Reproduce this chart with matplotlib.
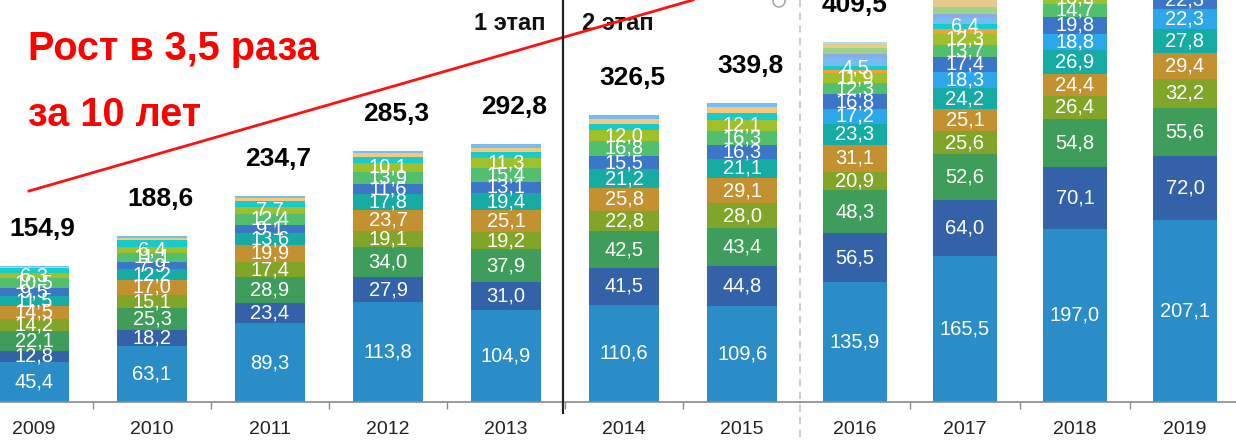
import matplotlib
matplotlib.use("Agg")
import matplotlib.pyplot as plt
from matplotlib.lines import Line2D
from matplotlib.patches import Ellipse

# ---------------- data ----------------
years = ["2009", "2010", "2011", "2012", "2013", "2014", "2015",
         "2016", "2017", "2018", "2019"]
totals = [154.9, 188.6, 234.7, 285.3, 292.8, 326.5, 339.8, 409.5, None, None, None]

blue       = [45.4, 63.1, 89.3, 113.8, 104.9, 110.6, 109.6, 135.9, 165.5, 197.0, 207.1]
dark_blue  = [12.8, 18.2, 23.4, 27.9, 31.0, 41.5, 44.8, 56.5, 64.0, 70.1, 72.0]
green      = [22.1, 25.3, 28.9, 34.0, 37.9, 42.5, 43.4, 48.3, 52.6, 54.8, 55.6]
olive      = [14.2, 15.1, 17.4, 19.1, 19.2, 22.8, 28.0, 20.9, 25.6, 26.4, 32.2]
gold       = [14.5, 17.0, 19.9, 23.7, 25.1, 25.8, 29.1, 31.1, 25.1, 24.4, 29.4]
teal       = [11.5, 12.2, 13.6, 17.8, 19.4, 21.2, 21.1, 23.3, 24.2, 26.9, 27.8]
sky        = [0, 0, 0, 0, 0, 0, 0, 17.2, 18.3, 18.8, 22.3]
royal      = [9.5, 7.9, 9.1, 11.6, 13.1, 15.5, 16.3, 16.8, 17.4, 19.8, 22.3]
light_grn  = [10.5, 11.1, 12.4, 13.9, 15.4, 16.8, 16.3, 12.3, 13.7, 14.7, 16.0]
lime       = [6.3, 6.4, 7.7, 10.1, 11.3, 12.0, 12.1, 11.9, 12.3, 13.0, 13.0]
orange     = [0, 0, 0, 0, 0, 0, 0, 3.0, 5.0, 5.0, 5.0]
cyan       = [5.0, 7.5, 7.0, 6.5, 6.5, 7.0, 8.0, 4.5, 6.4, 7.0, 7.0]
pale_orng  = [2.0, 3.0, 3.5, 4.4, 5.0, 6.5, 6.5, 0, 0, 0, 0]
light_blue = [1.1, 1.8, 2.5, 2.5, 4.0, 4.3, 4.6, 9.5, 7.0, 7.0, 7.0]
lavender   = [0, 0, 0, 0, 0, 0, 0, 4.5, 3.5, 4.0, 4.0]
pale_grn   = [0, 0, 0, 0, 0, 0, 0, 6.5, 8.0, 8.0, 8.0]
tan        = [0, 0, 0, 0, 0, 0, 0, 4.5, 8.0, 6.0, 6.0]
pale_blue  = [0, 0, 0, 0, 0, 0, 0, 2.8, 4.0, 3.0, 3.0]

series = [blue, dark_blue, green, olive, gold, teal, sky, royal, light_grn,
          lime, orange, cyan, pale_orng, light_blue, lavender, pale_grn, tan,
          pale_blue]
colors = ["#2A8DC8", "#3462A8", "#3F9D5B", "#80A529", "#C3912F", "#16ABA3",
          "#2BA7EA", "#3B76C9", "#52BF6F", "#9DC02B", "#EDA33A", "#15CBCB",
          "#F6C878", "#74BDF2", "#8FA8E6", "#9CD48A", "#E6CB8A", "#A8DDF2"]
# which series carry value labels (left part / right part)
labeled_left = {0, 1, 2, 3, 4, 5, 6, 7, 8, 9}
labeled_right = {0, 1, 2, 3, 4, 5, 6, 7, 8, 9, 11}

n_left = 7  # 2009-2015
YMAX = 457

FONT = ["Liberation Sans", "DejaVu Sans"]

W, H = 1236, 442
fig = plt.figure(figsize=(W / 100, H / 100), dpi=100)
axL = fig.add_axes([0, 40 / H, 800 / W, 402 / H])
axR = fig.add_axes([800 / W, 40 / H, 436 / W, 402 / H])


def draw(ax, idx, labeled, xlim, tot_dx):
    xs = list(range(len(idx)))
    bottoms = [0.0] * len(idx)
    for si, (vals, c) in enumerate(zip(series, colors)):
        v = [vals[i] for i in idx]
        ax.bar(xs, v, bottom=bottoms, width=0.59, color=c, linewidth=0)
        if si in labeled:
            for k, val in enumerate(v):
                if val > 0:
                    yc = bottoms[k] + val / 2
                    if yc < YMAX + 6:
                        ax.text(xs[k], yc, f"{val:.1f}".replace(".", ","),
                                ha="center", va="center", color="white",
                                fontsize=14.5, family=FONT, clip_on=True)
        bottoms = [b + x for b, x in zip(bottoms, v)]
    for k, i in enumerate(idx):
        if totals[i] is not None:
            ax.text(xs[k] + tot_dx, totals[i] + 42, f"{totals[i]:.1f}".replace(".", ","),
                    ha="center", va="center", color="black", fontsize=19,
                    fontweight="bold", family=FONT, clip_on=False)
    ax.set_xlim(*xlim)
    ax.set_ylim(0, YMAX)
    ax.set_xticks(xs)
    ax.set_xticklabels([years[i] for i in idx], family=FONT, fontsize=14,
                       color="#222222")
    ax.set_xticks([x + 0.5 for x in xs[:-1]], minor=True)
    ax.tick_params(axis="x", which="major", length=0, pad=14)
    ax.tick_params(axis="x", which="minor", length=5, width=1, color="#8a8a8a")
    ax.set_yticks([])
    for s in ("top", "left", "right"):
        ax.spines[s].set_visible(False)
    ax.spines["bottom"].set_color("#8a8a8a")
    ax.spines["bottom"].set_linewidth(1.2)
    ax.patch.set_alpha(0)


draw(axL, list(range(0, n_left)), labeled_left, (-0.288, 6.49), 0.07)
draw(axR, list(range(n_left, len(years))), labeled_right, (-0.5, 3.464), 0.0)


def px(x, y):
    return x / W, 1 - y / H


# red trend line
(x0, y0), (x1, y1) = px(29, 191), px(693, 0)
fig.add_artist(Line2D([x0, x1], [y0, y1], color="#FF1010", lw=2,
                      transform=fig.transFigure, zorder=10))
# stage separator
(x0, y0), (x1, y1) = px(563, 0), px(563, 413)
fig.add_artist(Line2D([x0, x1], [y0, y1], color="#222222", lw=1.6,
                      transform=fig.transFigure, zorder=10))
# dashed separator
(x0, y0), (x1, y1) = px(800, 0), px(800, 442)
fig.add_artist(Line2D([x0, x1], [y0, y1], color="#c8c8c8", lw=1.3,
                      ls=(0, (4, 3)), transform=fig.transFigure, zorder=10))
# small circle handle
cx, cy = px(779, 1)
fig.add_artist(Ellipse((cx, cy), 12 / W, 12 / H, fill=False, ec="#aaaaaa",
                       lw=1.2, transform=fig.transFigure, zorder=10))

# texts
tx, ty = px(28, 60)
fig.text(tx, ty, "Рост в 3,5 раза", color="#FF0000", fontsize=28.5,
         fontweight="bold", family=FONT, ha="left", va="baseline")
tx, ty = px(28, 126)
fig.text(tx, ty, "за 10 лет", color="#FF0000", fontsize=28.5,
         fontweight="bold", family=FONT, ha="left", va="baseline")
tx, ty = px(546, 23)
fig.text(tx, ty, "1 этап", color="#111111", fontsize=17, fontweight="bold",
         family=FONT, ha="right", va="center")
tx, ty = px(582, 23)
fig.text(tx, ty, "2 этап", color="#111111", fontsize=17, fontweight="bold",
         family=FONT, ha="left", va="center")

fig.savefig("out.png", dpi=100)
